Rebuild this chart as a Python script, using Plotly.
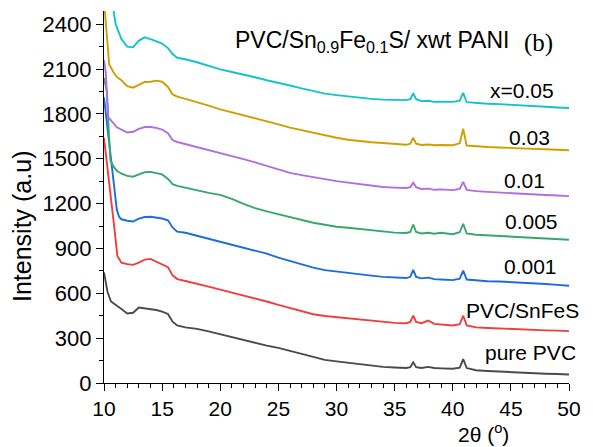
import plotly.graph_objects as go

# ---- data ----
# shared 2-theta grid after the low-angle fall-off
XB = [11.5, 12, 12.5, 13, 13.5, 14, 14.5, 15, 15.5, 15.9, 16.3, 17, 18, 19, 20, 21, 22, 23, 24, 25,
      26, 27, 28, 29, 30, 31, 32, 33, 34, 35, 36, 36.35, 36.6, 36.85, 37.3, 37.9, 38.4, 39, 40, 40.6,
      40.9, 41.2, 42, 43, 44, 45, 46, 47, 48, 49, 50]

pure_head_x = [10.0, 10.1, 10.3, 10.6, 11.0]
pure_head_y = [740, 700, 610, 545, 520]
pure_y = [495, 465, 470, 505, 500, 495, 488, 478, 462, 410, 385, 372, 362, 345, 325, 305, 285, 268, 250, 235,
          215, 195, 172, 155, 145, 135, 125, 115, 108, 104, 100, 106, 138, 106, 100, 108, 100, 98, 95, 103,
          160, 100, 85, 80, 76, 70, 67, 65, 62, 60, 57]

snfes_head_x = [10.0, 10.3, 10.6, 10.9, 11.15]
snfes_head_y = [1640, 1450, 1230, 1030, 850]
snfes_y = [805, 795, 790, 805, 825, 830, 810, 795, 775, 720, 695, 682, 665, 645, 625, 605, 588, 570, 545, 522,
           502, 480, 460, 448, 440, 433, 425, 415, 405, 402, 400, 408, 450, 408, 400, 418, 395, 390, 385, 393,
           450, 385, 372, 368, 364, 360, 357, 355, 352, 350, 347]

p001_head_x = [10.0, 10.3, 10.6, 10.9, 11.1, 11.3]
p001_head_y = [1910, 1700, 1480, 1290, 1160, 1110]
p001_y = [1095, 1085, 1080, 1100, 1110, 1112, 1108, 1100, 1088, 1040, 1012, 1005, 985, 965, 945, 925, 905, 890, 865, 838,
          815, 790, 772, 755, 745, 738, 728, 718, 710, 705, 702, 710, 757, 710, 700, 705, 695, 692, 688, 698,
          752, 692, 685, 681, 679, 676, 672, 667, 662, 656, 650]

p005_head_x = [10.0, 10.25, 10.4, 10.55, 10.8, 11.1]
p005_head_y = [2040, 1950, 1700, 1490, 1450, 1420]
p005_y = [1400, 1385, 1380, 1395, 1410, 1412, 1405, 1395, 1365, 1330, 1318, 1305, 1290, 1272, 1258, 1232, 1198, 1170, 1148, 1128,
          1110, 1090, 1072, 1058, 1045, 1038, 1030, 1020, 1010, 1006, 1003, 1010, 1060, 1010, 1000, 1005, 998, 1005, 995, 1008,
          1065, 1000, 992, 988, 985, 982, 978, 973, 968, 963, 958]

p01_head_x = [10.0, 10.15, 10.35, 10.8, 11.1]
p01_head_y = [2160, 2080, 1780, 1740, 1710]
p01_y = [1695, 1675, 1680, 1700, 1712, 1712, 1706, 1695, 1670, 1625, 1612, 1598, 1580, 1560, 1540, 1520, 1497, 1475, 1452, 1428,
         1405, 1390, 1375, 1362, 1350, 1340, 1330, 1320, 1311, 1307, 1304, 1310, 1340, 1310, 1298, 1300, 1292, 1295, 1290, 1298,
         1345, 1292, 1283, 1278, 1273, 1268, 1264, 1260, 1257, 1254, 1250]

p03_head_x = [10.0, 10.1, 10.3, 10.45, 10.8, 11.1]
p03_head_y = [2560, 2470, 2250, 2130, 2080, 2047]
p03_y = [2025, 1985, 1975, 1995, 2013, 2015, 2022, 2015, 1980, 1930, 1915, 1900, 1880, 1855, 1830, 1810, 1790, 1775, 1752, 1730,
         1708, 1690, 1676, 1658, 1640, 1627, 1618, 1610, 1605, 1598, 1593, 1600, 1640, 1600, 1592, 1595, 1590, 1592, 1590, 1603,
         1700, 1588, 1582, 1578, 1575, 1573, 1570, 1567, 1563, 1560, 1557]

p05_head_x = [10.7, 10.85, 11.0, 11.2]
p05_head_y = [2560, 2470, 2400, 2360]
p05_y = [2300, 2250, 2245, 2290, 2312, 2300, 2285, 2270, 2240, 2200, 2175, 2165, 2145, 2120, 2098, 2080, 2065, 2045, 2025, 2010,
         1990, 1970, 1950, 1935, 1925, 1915, 1907, 1900, 1895, 1893, 1892, 1898, 1938, 1898, 1885, 1888, 1880, 1882, 1880, 1888,
         1940, 1878, 1872, 1868, 1865, 1862, 1857, 1852, 1848, 1843, 1839]

series_names = ["pure PVC", "PVC/SnFeS", "0.001", "0.005", "0.01", "0.03", "x=0.05"]
series_heads_x = [pure_head_x, snfes_head_x, p001_head_x, p005_head_x, p01_head_x, p03_head_x, p05_head_x]
series_heads_y = [pure_head_y, snfes_head_y, p001_head_y, p005_head_y, p01_head_y, p03_head_y, p05_head_y]
series_bodies = [pure_y, snfes_y, p001_y, p005_y, p01_y, p03_y, p05_y]
colors = ["#4a4a4a", "#f03e3e", "#1c6ddc", "#37a86c", "#b06ee0", "#d19e00", "#12c4c8"]

# label positions in pixels (centre)
label_pos = [(530, 352), (522, 310), (530, 266), (531, 222), (524, 180), (529, 137), (522, 90)]

L, R, T, B = 104, 569, 11, 383


def pxx(xp):
    return (xp - L) / (R - L)


def pxy(yp):
    return (B - yp) / (B - T)


fig = go.Figure()
for hx, hy, body, c, name in zip(series_heads_x, series_heads_y, series_bodies, colors, series_names):
    fig.add_trace(go.Scatter(x=hx + XB, y=hy + body, mode="lines", name=name,
                             line=dict(color=c, width=1.9)))

FONT = "Liberation Sans, Arial, sans-serif"
ann = []
for name, (xp, yp) in zip(series_names, label_pos):
    ann.append(dict(text=name, x=pxx(xp), y=pxy(yp), xref="paper", yref="paper", showarrow=False,
                    xanchor="center", yanchor="middle", font=dict(size=21, family=FONT, color="black")))

ann.append(dict(text="PVC/Sn<sub>0.9</sub>Fe<sub>0.1</sub>S/ xwt PANI", x=pxx(233), y=pxy(41),
                xref="paper", yref="paper", showarrow=False, xanchor="left", yanchor="middle",
                font=dict(size=23, family=FONT, color="black")))
ann.append(dict(text="(b)", x=pxx(538), y=pxy(43), xref="paper", yref="paper", showarrow=False,
                xanchor="center", yanchor="middle",
                font=dict(size=25, family="Liberation Serif, Times New Roman, serif", color="black")))
ann.append(dict(text="2θ (<sup>o</sup>)", x=pxx(483), y=pxy(447), xref="paper", yref="paper", showarrow=False,
                xanchor="center", yanchor="bottom", borderpad=0,
                font=dict(size=21, family=FONT, color="black")))
ann.append(dict(text="Intensity (a.u)", x=pxx(22), y=pxy(227), xref="paper", yref="paper", showarrow=False,
                xanchor="center", yanchor="middle", textangle=-90,
                font=dict(size=25, family=FONT, color="black")))

fig.update_layout(
    width=593, height=447,
    margin=dict(l=L, r=593 - R, t=T, b=447 - B),
    paper_bgcolor="white", plot_bgcolor="white",
    showlegend=False,
    annotations=ann,
    xaxis=dict(range=[10, 50], dtick=5, tick0=10, ticks="outside", ticklen=7, tickwidth=1.3,
               tickcolor="black", showline=True, linecolor="black", linewidth=1.4,
               showgrid=False, zeroline=False,
               minor=dict(dtick=1, ticks="outside", ticklen=4, tickwidth=1.1, tickcolor="black"),
               tickfont=dict(size=21, family=FONT, color="black")),
    yaxis=dict(range=[0, 2488], dtick=300, tick0=0, ticks="outside", ticklen=7, tickwidth=1.3,
               tickcolor="black", showline=True, linecolor="black", linewidth=1.4,
               showgrid=False, zeroline=False,
               minor=dict(dtick=150, ticks="outside", ticklen=4, tickwidth=1.1, tickcolor="black"),
               tickfont=dict(size=22, family=FONT, color="black")),
)

fig.write_html("out.html")
